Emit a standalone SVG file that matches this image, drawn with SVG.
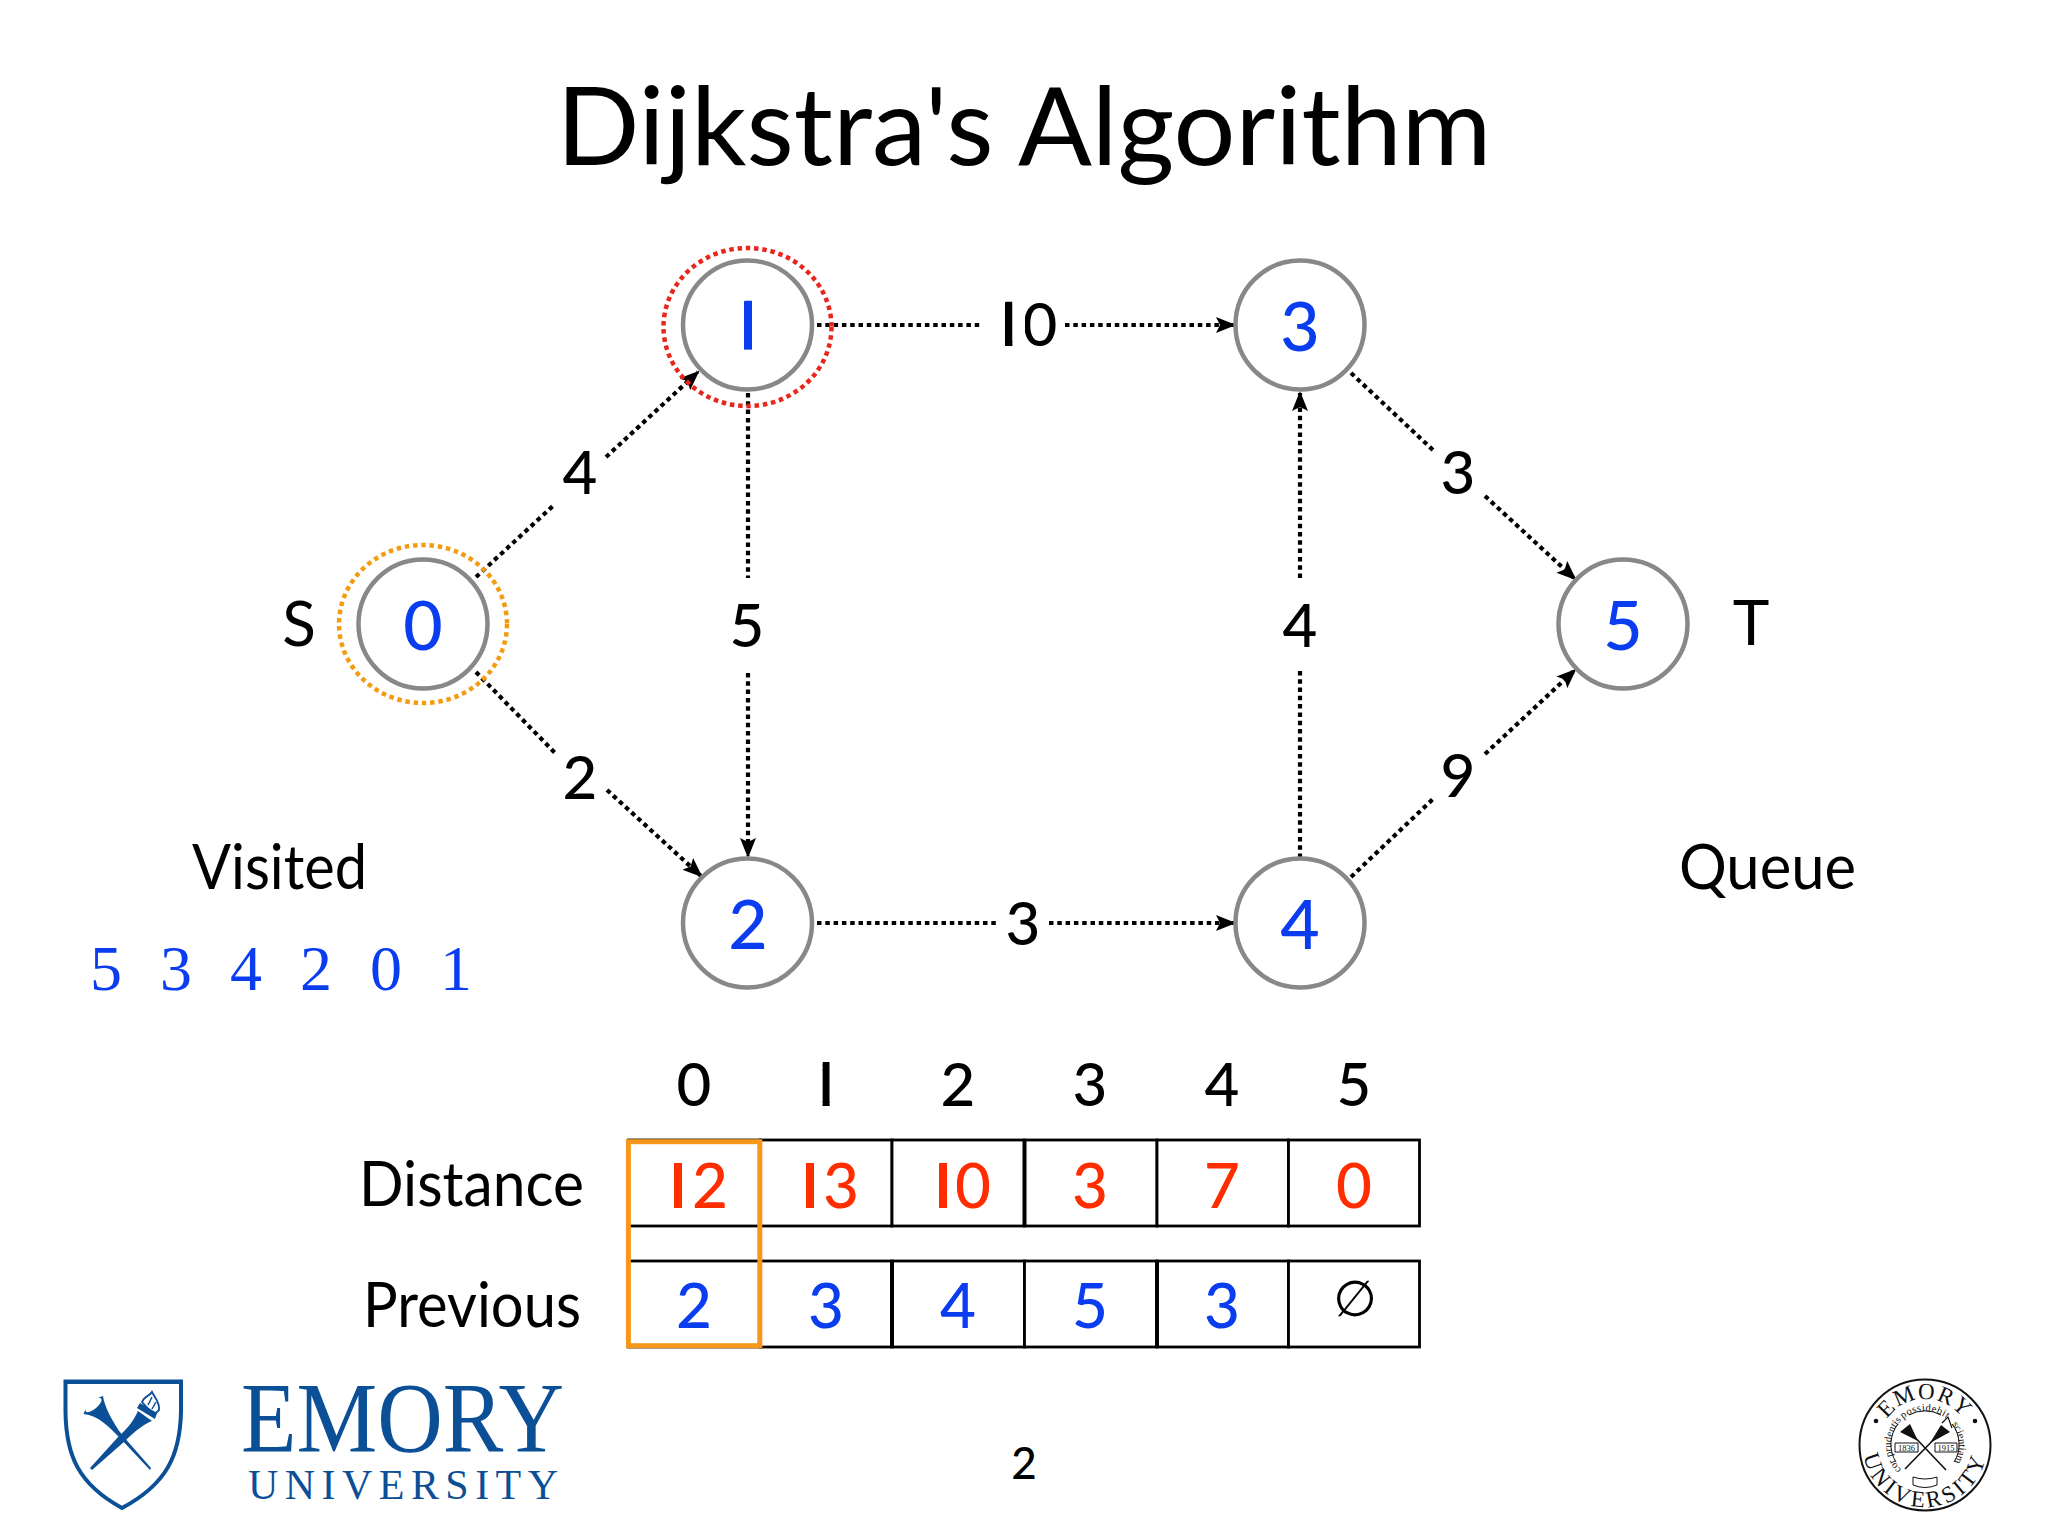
<svg xmlns="http://www.w3.org/2000/svg" width="2048" height="1536" viewBox="0 0 2048 1536">
<style>
text{font-family:"Lato","Noto Sans",sans-serif}
.c{text-anchor:middle}
.title{font-size:108px;fill:#000}
.lbl{font-size:60px;fill:#000;text-anchor:middle;font-weight:500}
.big{font-size:62px;fill:#000}
.nd{font-size:68px;fill:#0a3cf0;text-anchor:middle;font-weight:500}
.ncirc{fill:#fff;stroke:#888;stroke-width:4.5}
.edge{fill:none;stroke:#000;stroke-width:4.2;stroke-dasharray:4.5 3.8}
.cell{fill:#fff;stroke:#000;stroke-width:2.8}
.red{font-size:62px;fill:#ff2d00;text-anchor:middle;font-weight:500}
.blue{font-size:62px;fill:#0a3cf0;text-anchor:middle;font-weight:500}
.vis{font-family:"Liberation Serif",serif;font-size:64px;fill:#0a3cf0;word-spacing:22px}
.logo{font-family:"Liberation Serif",serif;fill:#0b4f96}
.seal{font-family:"Liberation Serif",serif;fill:#111}
.oneb{stroke:#0a3cf0;stroke-width:3}
.oner{stroke:#ff2d00;stroke-width:3}
.onek{stroke:#000;stroke-width:3}
</style>
<defs>
<marker id="ah" viewBox="0 0 20 16" refX="18" refY="8" markerWidth="20" markerHeight="16" markerUnits="userSpaceOnUse" orient="auto"><path d="M0,0 L20,8 L0,16 L4,8 Z" fill="#000"/></marker>
<path id="sealTop" d="M1879,1445 A46,46 0 0 1 1971,1445"/>
<path id="sealBot" d="M1866.7,1424 A62,62 0 1 0 1983.3,1424"/>
<path id="scroll" d="M1925,1479 A34,34 0 1 1 1925,1411 A34,34 0 1 1 1925,1479"/>
<clipPath id="c-node1"><rect x="744" y="300.5" width="8" height="49"/></clipPath>
<clipPath id="c-edge10"><rect x="1005" y="301.5" width="7.3" height="44.5"/><rect x="1025" y="295" width="45" height="60"/></clipPath>
<clipPath id="c-hdr1"><rect x="822.7" y="1062" width="6.8" height="44"/></clipPath>
<clipPath id="c-d12"><rect x="674" y="1163" width="8" height="45"/><rect x="694" y="1150" width="50" height="65"/></clipPath>
<clipPath id="c-d13"><rect x="806" y="1163" width="8" height="45"/><rect x="826" y="1150" width="50" height="65"/></clipPath>
<clipPath id="c-d10"><rect x="939" y="1163" width="8" height="45"/><rect x="957" y="1150" width="50" height="65"/></clipPath>
</defs>
<rect width="2048" height="1536" fill="#fff"/>
<text id="title" class="title c" x="1024" y="165" textLength="935" lengthAdjust="spacingAndGlyphs">Dijkstra's Algorithm</text>

<g id="connectors">
<path class="edge" d="M476,577 L554,505"/>
<path class="edge" d="M606,457 L698,372" marker-end="url(#ah)"/>
<path class="edge" d="M476,672 L557,755"/>
<path class="edge" d="M607,790 L701,876" marker-end="url(#ah)"/>
<path class="edge" d="M748,393 V578"/>
<path class="edge" d="M748,673 V856" marker-end="url(#ah)"/>
<path class="edge" d="M817,325 H982"/>
<path class="edge" d="M1065,325 H1234" marker-end="url(#ah)"/>
<path class="edge" d="M817,923 H998"/>
<path class="edge" d="M1049,923 H1234" marker-end="url(#ah)"/>
<path class="edge" d="M1300,858 V669"/>
<path class="edge" d="M1300,578 V393" marker-end="url(#ah)"/>
<path class="edge" d="M1351,373 L1434,451"/>
<path class="edge" d="M1485,496 L1575,579" marker-end="url(#ah)"/>
<path class="edge" d="M1351,877 L1433,799"/>
<path class="edge" d="M1485,754 L1575,670" marker-end="url(#ah)"/>
<text class="lbl" y="346" clip-path="url(#c-edge10)"><tspan class="onek" x="1006.3">1</tspan><tspan x="1040">0</tspan></text>
<text class="lbl" x="580" y="494">4</text>
<text class="lbl" x="580" y="799">2</text>
<text class="lbl" x="747" y="647">5</text>
<text class="lbl" x="1023" y="945">3</text>
<text class="lbl" x="1300" y="647">4</text>
<text class="lbl" x="1458" y="494">3</text>
<text class="lbl" x="1458" y="797">9</text>
</g>

<g id="node-0">
<ellipse cx="423" cy="624" rx="84" ry="79" fill="none" stroke="#f39c12" stroke-width="4.5" stroke-dasharray="4.5 3.8"/>
<circle class="ncirc" cx="423" cy="624" r="64.5" fill-opacity="0"/>
<text class="nd" x="423" y="650">0</text>
</g>
<g id="node-1">
<ellipse cx="747.5" cy="327" rx="84" ry="79" fill="none" stroke="#e8261c" stroke-width="4.5" stroke-dasharray="4.5 3.8"/>
<circle class="ncirc" cx="747.5" cy="325" r="64.5"/>
<text class="nd oneb" x="745.5" y="351" clip-path="url(#c-node1)">1</text>
</g>
<g id="node-2"><circle class="ncirc" cx="747.5" cy="923" r="64.5"/><text class="nd" x="748" y="949">2</text></g>
<g id="node-3"><circle class="ncirc" cx="1300" cy="325" r="64.5"/><text class="nd" x="1300" y="351">3</text></g>
<g id="node-4"><circle class="ncirc" cx="1300" cy="923" r="64.5"/><text class="nd" x="1300" y="949">4</text></g>
<g id="node-5"><circle class="ncirc" cx="1623" cy="624" r="64.5"/><text class="nd" x="1623" y="650">5</text></g>

<g id="annotations">
<text class="big c" x="299" y="646">S</text>
<text class="big c" x="1751" y="645">T</text>
<text class="big" x="192" y="889" textLength="175" lengthAdjust="spacingAndGlyphs">Visited</text>
<text class="big" x="1679" y="889" textLength="177" lengthAdjust="spacingAndGlyphs">Queue</text>
<text class="vis" x="90" y="990">5 3 4 2 0 1</text>
</g>

<g id="table">
<g class="hdr">
<text class="lbl" x="694" y="1106">0</text>
<text class="lbl onek" x="823.6" y="1106" clip-path="url(#c-hdr1)">1</text>
<text class="lbl" x="958" y="1106">2</text>
<text class="lbl" x="1090" y="1106">3</text>
<text class="lbl" x="1222" y="1106">4</text>
<text class="lbl" x="1354" y="1106">5</text>
</g>
<text class="big" x="359" y="1206" textLength="225" lengthAdjust="spacingAndGlyphs">Distance</text>
<text class="big" x="363" y="1327" textLength="218" lengthAdjust="spacingAndGlyphs">Previous</text>
<rect class="cell" x="628.5" y="1140" width="132" height="86"/>
<rect class="cell" x="760.5" y="1140" width="131.5" height="86"/>
<rect class="cell" x="892" y="1140" width="132.5" height="86"/>
<rect class="cell" x="1024.5" y="1140" width="132.5" height="86"/>
<rect class="cell" x="1157" y="1140" width="131.5" height="86"/>
<rect class="cell" x="1288.5" y="1140" width="131" height="86"/>
<rect class="cell" x="628.5" y="1261" width="132" height="86"/>
<rect class="cell" x="760.5" y="1261" width="131.5" height="86"/>
<rect class="cell" x="892" y="1261" width="132.5" height="86"/>
<rect class="cell" x="1024.5" y="1261" width="132.5" height="86"/>
<rect class="cell" x="1157" y="1261" width="131.5" height="86"/>
<rect class="cell" x="1288.5" y="1261" width="131" height="86"/>
<path d="M1024.5,1140 V1226 M892,1261 V1347 M1157,1261 V1347" stroke="#000" stroke-width="4" fill="none"/>
<text class="red" y="1208" clip-path="url(#c-d12)"><tspan class="oner" x="675.5">1</tspan><tspan x="710">2</tspan></text>
<text class="red" y="1208" clip-path="url(#c-d13)"><tspan class="oner" x="807.5">1</tspan><tspan x="841">3</tspan></text>
<text class="red" y="1208" clip-path="url(#c-d10)"><tspan class="oner" x="940.5">1</tspan><tspan x="973">0</tspan></text>
<text class="red" x="1090" y="1208">3</text>
<text class="red" x="1222" y="1208">7</text>
<text class="red" x="1354" y="1208">0</text>
<text class="blue" x="694" y="1328">2</text>
<text class="blue" x="826" y="1328">3</text>
<text class="blue" x="958" y="1328">4</text>
<text class="blue" x="1090" y="1328">5</text>
<text class="blue" x="1222" y="1328">3</text>
<text x="1355" y="1316" font-size="50" fill="#000" text-anchor="middle" style="font-family:'DejaVu Sans',sans-serif">∅</text>
<rect x="628.4" y="1141.7" width="131.4" height="204" fill="none" stroke="#f7981d" stroke-width="5"/>
</g>

<g id="logo">
<path d="M65.5,1381.5 H181 V1412 C180,1455 167,1484 122,1508 C78,1484 66,1455 65.5,1412 Z" fill="none" stroke="#0b4f96" stroke-width="4"/>
<path d="M64,1380 H183 V1384 H64 Z" fill="#0b4f96"/>
<path d="M83.5,1414 C87,1405 95,1398 103,1396 C104,1405 112,1422 123,1436 L151,1468 L150,1470 L119,1437 C110,1428 98,1415 83.5,1414 Z" fill="#0b4f96"/>
<ellipse cx="93.5" cy="1405" rx="10" ry="4" transform="rotate(-40 93.5 1405)" fill="#fff"/>
<path d="M138,1411 L152,1421 C146,1423 136,1430 125,1441 L92,1470 L90,1468 L119,1436 C128,1428 134,1420 138,1411 Z" fill="#0b4f96"/>
<path d="M137,1408 L155,1419 L157,1413 L140,1403 Z" fill="#0b4f96"/>
<path d="M142,1402 C144,1396 150,1396 152,1392 C155,1398 160,1402 159,1410 L154,1415 Z" fill="none" stroke="#0b4f96" stroke-width="1.8"/>
<path d="M148,1405 L152,1397 M152,1409 L156,1402" stroke="#0b4f96" stroke-width="1.5"/>
<text class="logo" x="241" y="1451" font-size="100" textLength="323" lengthAdjust="spacingAndGlyphs">EMORY</text>
<text class="logo" x="248" y="1499" font-size="42" textLength="310" lengthAdjust="spacing">UNIVERSITY</text>
</g>

<text id="page" class="c" x="1024" y="1479" font-size="44" fill="#000" font-weight="500">2</text>

<g id="seal">
<circle cx="1925" cy="1445" r="65.5" fill="none" stroke="#111" stroke-width="2"/>
<circle cx="1876" cy="1421" r="2.3" fill="#111"/><circle cx="1975" cy="1421" r="2.3" fill="#111"/>
<text class="seal" font-size="23" text-anchor="middle" letter-spacing="1.5"><textPath href="#sealTop" startOffset="50%">EMORY</textPath></text>
<text class="seal" font-size="23" text-anchor="middle" letter-spacing="3.5"><textPath href="#sealBot" startOffset="50%">UNIVERSITY</textPath></text>
<text class="seal" font-size="10.5" text-anchor="middle"><textPath href="#scroll" startOffset="25%">cor prudentis</textPath></text>
<text class="seal" font-size="10.5" text-anchor="middle" letter-spacing="0.5"><textPath href="#scroll" startOffset="50%">possidebit</textPath></text>
<text class="seal" font-size="10.5" text-anchor="middle"><textPath href="#scroll" startOffset="74%">scientiam</textPath></text>
<path d="M1898,1424 A33,33 0 0 0 1896,1462 M1952,1424 A33,33 0 0 1 1954,1462 M1909,1415 A33,33 0 0 1 1941,1415" fill="none" stroke="#111" stroke-width="1"/>
<path d="M1908,1430 L1946,1470 M1942,1431 L1905,1469" stroke="#111" stroke-width="1.6" fill="none"/>
<path d="M1900,1432 L1910,1424 L1918,1441 Z M1950,1432 L1941,1425 L1930,1443 Z" fill="#111"/>
<path d="M1942,1423 L1948,1417 L1952,1428" fill="none" stroke="#111" stroke-width="1.2"/>
<path d="M1895,1443 H1918 V1452 H1895 Z M1935,1443 H1957 V1452 H1935 Z" fill="#fff" stroke="#111" stroke-width="1"/>
<text class="seal" x="1906.5" y="1451" font-size="8.5" text-anchor="middle">1836</text>
<text class="seal" x="1946" y="1451" font-size="8.5" text-anchor="middle">1915</text>
<path d="M1913,1485 Q1925,1490 1937,1485 M1913,1477 Q1925,1481 1937,1477 M1913,1477 V1485 M1937,1477 V1485" fill="none" stroke="#111" stroke-width="1"/>
</g>
</svg>
